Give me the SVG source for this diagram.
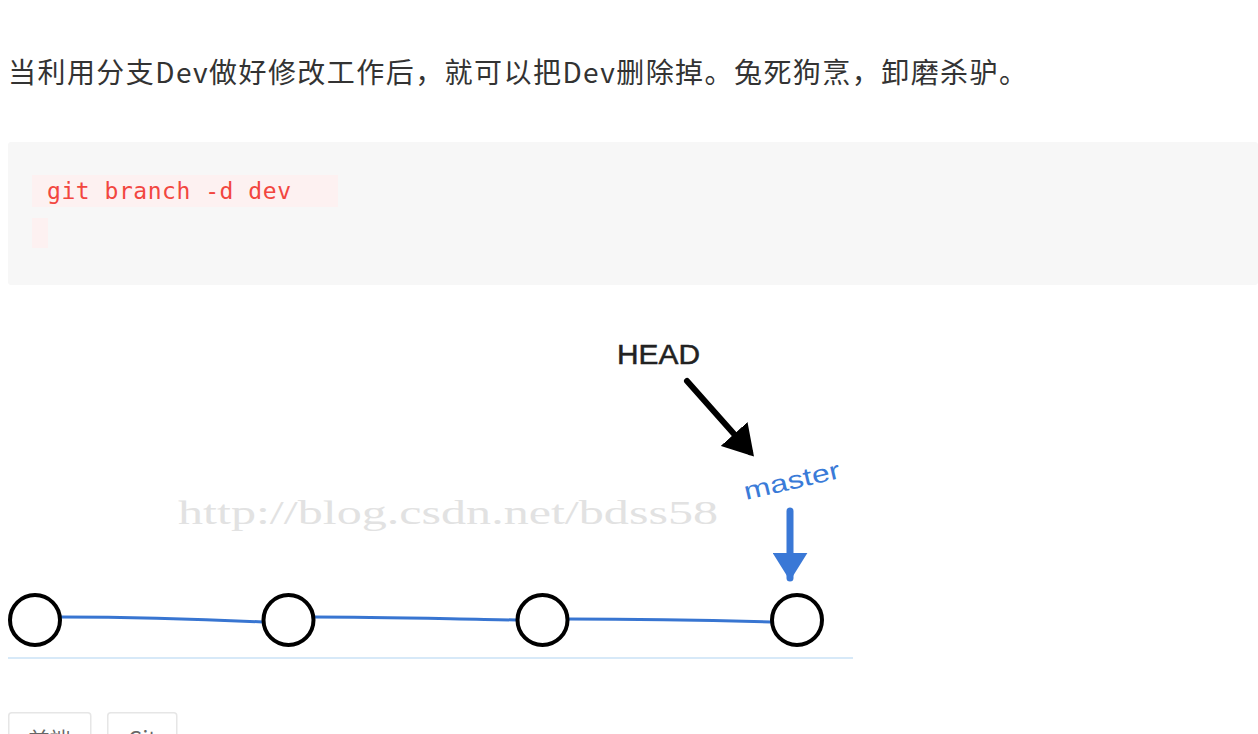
<svg xmlns="http://www.w3.org/2000/svg" width="1258" height="734" viewBox="0 0 1258 734">
<style>
.para{font-family:"Noto Sans CJK SC","Noto Sans",sans-serif;font-size:28px;fill:#333}
.code{font-family:"DejaVu Sans Mono","Liberation Mono",monospace;font-size:23px;fill:#f2463f}
.commit{fill:#fff;stroke:#000;stroke-width:4}
.branch{fill:none;stroke:#3875d1;stroke-width:3;stroke-linecap:round}
.tag{fill:#fff;stroke:#e6e6e6;stroke-width:1.5}
.tagtext{font-family:"Noto Sans CJK SC","Noto Sans",sans-serif;font-size:21px;fill:#666}
</style>
<defs>
<marker id="blackhead" markerWidth="6" markerHeight="6" refX="4" refY="3" orient="auto" markerUnits="strokeWidth">
<path d="M0,0 L5,3 L0,6 Z" fill="#000"/>
</marker>
<marker id="bluehead" markerWidth="5" markerHeight="5" refX="3.6" refY="2.5" orient="auto" markerUnits="strokeWidth">
<path d="M0,0 L4,2.5 L0,5 Z" fill="#3a78d6"/>
</marker>
</defs>
<rect width="1258" height="734" fill="#fff"/>
<text class="para" x="8" y="83" textLength="1019" lengthAdjust="spacing">当利用分支Dev做好修改工作后，就可以把Dev删除掉。兔死狗烹，卸磨杀驴。</text>
<g id="codeblock">
<rect x="8" y="142" width="1250" height="143" rx="3" fill="#f7f7f7"/>
<rect x="32" y="175" width="306" height="32" fill="#fdf1f1"/>
<rect x="32" y="218" width="16" height="30" fill="#fdf1f1"/>
<text class="code" x="47" y="199" textLength="244" lengthAdjust="spacing">git branch -d dev</text>
</g>
<text x="178" y="524" font-family="Liberation Serif,serif" font-size="34" fill="#e2e2e2" textLength="540" lengthAdjust="spacingAndGlyphs">http://blog.csdn.net/bdss58</text>
<line x1="8" y1="658" x2="853" y2="658" stroke="#d7e9f8" stroke-width="2"/>
<g id="connectors">
<path class="branch" d="M61,617 C130,617 200,619 263,622"/>
<path class="branch" d="M314,617 C380,617 450,619 517,620"/>
<path class="branch" d="M568,619 C640,619 700,620 771,622"/>
<line x1="687" y1="381" x2="750" y2="452" stroke="#000" stroke-width="6" stroke-linecap="round" marker-end="url(#blackhead)"/>
<line x1="790" y1="511" x2="790" y2="578" stroke="#3a78d6" stroke-width="7" stroke-linecap="round" marker-end="url(#bluehead)"/>
</g>
<g id="head"><text x="617" y="364" font-family="Liberation Sans,Arial,sans-serif" font-size="28" fill="#222" stroke="#222" stroke-width="0.5" textLength="83" lengthAdjust="spacingAndGlyphs">HEAD</text></g>
<g id="master"><text x="746" y="500" transform="rotate(-13 746 500)" font-family="Liberation Sans,Arial,sans-serif" font-size="25" fill="#3a7bd8" textLength="98" lengthAdjust="spacingAndGlyphs">master</text></g>
<g id="c1"><circle class="commit" cx="35" cy="620" r="25"/></g>
<g id="c2"><circle class="commit" cx="288.5" cy="620" r="25"/></g>
<g id="c3"><circle class="commit" cx="542.5" cy="620" r="25"/></g>
<g id="c4"><circle class="commit" cx="797" cy="620" r="25"/></g>
<g id="tags">
<rect class="tag" x="8.75" y="712.75" width="82" height="40" rx="3"/>
<rect class="tag" x="107.75" y="712.75" width="69" height="40" rx="3"/>
<text class="tagtext" x="49.5" y="747" text-anchor="middle">前端</text>
<text class="tagtext" x="142" y="747" text-anchor="middle">Git</text>
</g>
</svg>
